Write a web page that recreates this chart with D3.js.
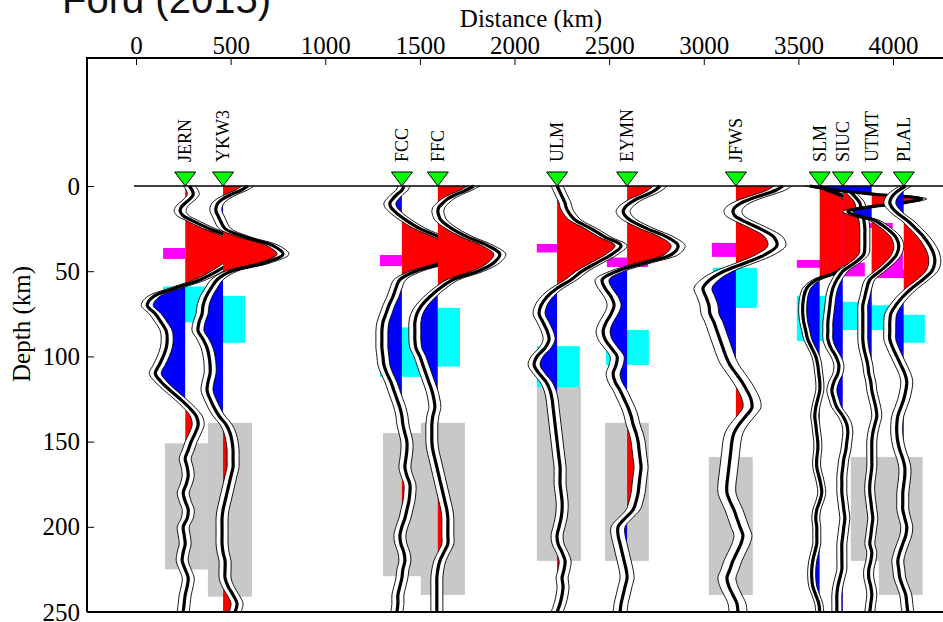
<!DOCTYPE html>
<html><head><meta charset="utf-8">
<script src="https://cdn.jsdelivr.net/npm/d3@7"></script>
<style>body{margin:0;background:#fff} svg{display:block}</style>
</head><body><svg id="c" width="943" height="622"></svg>
<script>
// ---------- DATA ----------
const stations = ["JERN","YKW3","FCC","FFC","ULM","EYMN","JFWS","SLM","SIUC","UTMT","PLAL"];
const distances = [260, 460, 1405, 1595, 2225, 2595, 3170, 3613, 3735, 3888, 4057]; // km
const depths = [0,2.5,5,7.5,10,12.5,15,17.5,20,25,30,35,40,45,50,55,60,65,70,75,80,85,90,95,100,105,110,115,120,125,130,135,140,145,150,155,160,165,170,175,180,185,190,195,200,205,210,215,220,225,230,235,240,245,250];
// relative receiver-function amplitude (%) at each depth
const ampJERN = [4,7,8,5,0,-4,-5,-2,6,24,45,55,55,45,32,15,-10,-32,-38,-30,-24,-19,-18,-19,-22,-26,-30,-24,-15,-5,4,11,13,10,6,3,0,2,3,1,-2,0,3,2,-2,-1,0,-2,-3,0,3,2,0,-1,-2];
const ampYKW3 = [25,18,8,0,-5,-7,-7,-5,-3,2,22,50,60,42,8,-6,-12,-17,-20,-21,-24,-25,-20,-16,-14,-13,-13,-15,-16,-13,-9,-4,3,7,9,10,10,10,8,6,4,2,0,-1,-1,-1,-1,0,2,2,2,5,10,14,12];
const ampFCC  = [2,0,-5,-9,-12,-11,-7,-2,4,18,38,55,58,42,14,-2,-6,-9,-13,-16,-19,-20,-20,-20,-19,-18,-15,-11,-8,-5,-2,0,1,3,5,5,4,3,5,8,8,7,5,3,0,-2,-1,2,3,1,0,-2,-4,-4,-5];
const ampFFC  = [36,28,18,10,5,1,0,1,3,14,30,50,62,56,40,15,2,-8,-16,-21,-23,-23,-23,-22,-18,-15,-12,-9,-6,-4,-3,-5,-6,-6,-6,-5,-3,-1,1,3,5,7,9,10,10,10,10,6,2,0,-1,-1,-1,-1,-1];
const ampULM  = [0,2,4,6,8,9,11,14,18,34,48,64,55,40,25,14,0,-10,-16,-18,-14,-10,-8,-12,-20,-23,-18,-11,-7,-5,-4,-3,-2,-1,0,1,2,3,3,3,4,5,5,4,2,0,1,5,8,7,5,6,5,3,0];
const ampEYMN = [33,28,20,10,3,-2,-4,-2,3,20,40,51,45,18,-10,-25,-22,-16,-13,-16,-21,-24,-22,-16,-10,-11,-14,-12,-7,-3,1,4,6,9,11,12,13,14,13,12,11,9,6,-2,-9,-9,-7,-5,-3,-1,0,-2,-4,-6,-7];
const ampJFWS = [47,40,28,15,5,-1,-3,-1,6,24,38,41,30,10,-12,-26,-33,-30,-27,-26,-22,-19,-16,-13,-10,-6,0,6,11,15,16,10,3,-2,-4,-5,-6,-7,-8,-9,-9,-6,-2,1,4,7,5,1,-3,-6,-9,-7,-3,1,2];
const ampSLM  = [0,8,20,27,29,30,30,30,30,31,31,30,30,29,20,-3,-13,-16,-17,-17,-16,-14,-12,-8,-4,-2,-1,0,0,-2,-4,-5,-4,-3,-2,-2,-3,-3,-1,1,2,0,-3,-4,-3,-3,-3,-5,-7,-8,-8,-7,-4,-1,0];
const ampSIUC = [3,6,10,14,17,18,19,20,21,22,22,22,21,12,0,-6,-10,-12,-13,-14,-15,-15,-15,-12,-7,-4,-5,-9,-11,-9,-6,0,4,5,4,3,1,0,-1,-1,-1,0,1,2,1,0,-1,-1,-1,-1,-3,-5,-6,-6,-6];
const ampUTMT = [-62,-35,5,50,30,-5,-24,-15,2,15,24,27,25,18,8,-2,-5,-7,-9,-9,-9,-9,-9,-8,-6,-4,-3,-1,0,2,4,5,3,1,0,0,0,0,-1,-2,-2,-1,0,1,0,-1,-2,0,-1,-3,-3,-1,0,-1,-2];
const ampPLAL = [2,-5,-10,-13,-14,-12,-8,-3,3,12,20,26,30,31,28,19,8,-1,-8,-13,-14,-14,-14,-11,-7,-3,1,3,2,0,-3,-6,-7,-7,-6,-4,-1,1,1,0,-1,-1,-1,1,3,2,-1,-4,-6,-5,-4,-1,2,3,4];
const amplitudes = [ampJERN, ampYKW3, ampFCC, ampFFC, ampULM, ampEYMN, ampJFWS, ampSLM, ampSIUC, ampUTMT, ampPLAL];
const errors = [6,6,6,6,6,7,9,4,5,5,6]; // amplitude uncertainty (%)

// boxes: [distance from, distance to, depth top, depth bottom]
const grayBoxes = [[153,380,151,225],[380,613,139,241],[1305,1511,145,229],[1505,1738,139,240],[2118,2351,118,220],[2478,2710,139,220],[3027,3259,159,240],[3777,4000,159,220],[3925,4157,159,240]];
const cyanBoxes = [[143,375,59,80],[375,576,64.5,92],[1289,1518,83,112],[1511,1712,71.5,106],[2118,2345,94,118],[2483,2710,84.5,105],[3048,3281,48,71.5],[3492,3735,64.5,91],[3735,3888,68,84.5],[3888,4052,70,84.5],[4052,4168,75.6,92]];
const magentaBoxes = [[143,259,36.4,42.8],[1289,1405,40.5,47],[2118,2230,34,39],[2488,2705,42,47.5],[3043,3281,33.4,41.6],[3492,3735,43.4,48],[3735,3851,45,53],[3772,3999,21.7,24.6],[3888,4052,37.5,54],[3946,4168,49,54]];

const xTicks = [0,500,1000,1500,2000,2500,3000,3500,4000];
const yTicks = [0,50,100,150,200,250];

// ---------- CHART ----------
const svg = d3.select('#c');
const x = d3.scaleLinear().domain([0,4000]).range([136,893]);
const y = d3.scaleLinear().domain([0,250]).range([186,612]);
const amp = d3.scaleLinear().domain([0,100]).range([0,528]);
const L = 87, T = 58, B = 612, R = 1000;
const serif = "'Liberation Serif','Times New Roman',serif";

const defs = svg.append('defs');
defs.append('clipPath').attr('id','plotclip').append('rect')
  .attr('x',L).attr('y',T).attr('width',R-L).attr('height',B-T);

const plot = svg.append('g').attr('clip-path','url(#plotclip)');

function drawBoxes(list, color){
  plot.append('g').selectAll('rect').data(list).join('rect')
    .attr('x',d=>x(d[0])).attr('width',d=>x(d[1])-x(d[0]))
    .attr('y',d=>y(d[2])).attr('height',d=>y(d[3])-y(d[2]))
    .attr('fill',color);
}
drawBoxes(grayBoxes,'#c8c8c8');
drawBoxes(cyanBoxes,'#00ffff');
drawBoxes(magentaBoxes,'#ff00ff');

const curve = d3.curveCatmullRom.alpha(0.5);
stations.forEach((name,i)=>{
  const dist = distances[i];
  const e = errors[i];
  const pts = depths.map((d,j)=>({d, a: amplitudes[i][j]}));
  const g = plot.append('g');
  const bx = x(dist);
  const cr = defs.append('clipPath').attr('id','pos'+i);
  cr.append('rect').attr('x',bx).attr('y',T).attr('width',R-bx).attr('height',B-T);
  const cb = defs.append('clipPath').attr('id','neg'+i);
  cb.append('rect').attr('x',L).attr('y',T).attr('width',bx-L).attr('height',B-T);
  const fillArea = d3.area().curve(curve).y(p=>y(p.d)).x0(bx).x1(p=>x(dist+amp(p.a)));
  g.append('path').attr('d',fillArea(pts)).attr('fill','#ff0000').attr('clip-path','url(#pos'+i+')');
  g.append('path').attr('d',fillArea(pts)).attr('fill','#0000ff').attr('clip-path','url(#neg'+i+')');
  const env = d3.area().curve(curve).y(p=>y(p.d))
     .x0(p=>x(dist+amp(p.a-e))).x1(p=>x(dist+amp(p.a+e)));
  g.append('path').attr('d',env(pts)).attr('fill','#ffffff');
  const ln = k => d3.line().curve(curve).y(p=>y(p.d)).x(p=>x(dist+amp(p.a+k)));
  g.append('path').attr('d',ln(-e)(pts)).attr('fill','none').attr('stroke','#000').attr('stroke-width',0.9);
  g.append('path').attr('d',ln(e)(pts)).attr('fill','none').attr('stroke','#000').attr('stroke-width',0.9);
  g.append('path').attr('d',ln(0)(pts)).attr('fill','none').attr('stroke','#000').attr('stroke-width',3.2);
});

// surface line
svg.append('line').attr('x1',x(0)-2).attr('x2',943).attr('y1',y(0)).attr('y2',y(0))
  .attr('stroke','#000').attr('stroke-width',1.3);

// station markers and labels
stations.forEach((name,i)=>{
  const sx = x(distances[i]);
  svg.append('path').attr('d',`M${sx-10.5},${y(0)-14}L${sx+10.5},${y(0)-14}L${sx},${y(0)}Z`)
    .attr('fill','#00ff00').attr('stroke','#000').attr('stroke-width',1);
  svg.append('text').text(name)
    .attr('transform',`translate(${sx+6},162) rotate(-90)`)
    .attr('font-family',serif).attr('font-size',18).attr('fill','#000');
});

// axes
const ax = svg.append('g').attr('transform',`translate(0,${T})`)
  .call(d3.axisTop(x).tickValues(xTicks).tickFormat(d3.format('d')).tickSize(-7).tickPadding(4));
const ay = svg.append('g').attr('transform',`translate(${L},0)`)
  .call(d3.axisLeft(y).tickValues(yTicks).tickFormat(d3.format('d')).tickSize(-7).tickPadding(7));
[ax,ay].forEach(a=>{
  a.select('.domain').remove();
  a.selectAll('text').attr('font-family',serif).attr('font-size',25).attr('fill','#000');
  a.selectAll('line').attr('stroke','#000');
});

// frame
svg.append('path').attr('d',`M${L},${B}L${L},${T}L${R},${T}M${L},${B}L${R},${B}`)
  .attr('fill','none').attr('stroke','#000').attr('stroke-width',2);

// labels
svg.append('text').text('Distance (km)').attr('x',531).attr('y',27)
  .attr('text-anchor','middle').attr('font-family',serif).attr('font-size',25);
svg.append('text').text('Depth (km)')
  .attr('transform','translate(30,324) rotate(-90)').attr('text-anchor','middle')
  .attr('font-family',serif).attr('font-size',25);
svg.append('text').text('Ford (2015)').attr('x',62).attr('y',13)
  .attr('font-family',"'Liberation Sans',Arial,sans-serif").attr('font-size',40).attr('fill','#111');
</script></body></html>
